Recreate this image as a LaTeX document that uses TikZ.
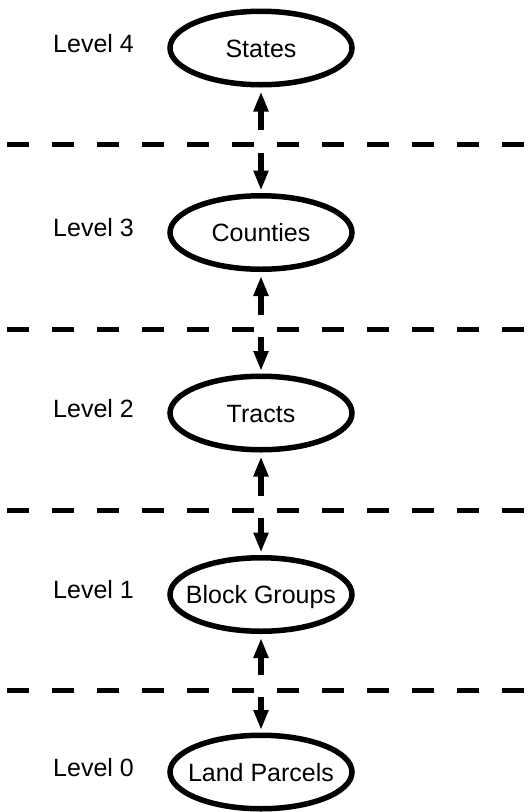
\documentclass[tikz,border=0pt]{standalone}
\usepackage{fontspec}
\setmainfont{Liberation Sans}
\usetikzlibrary{arrows.meta,shapes.geometric}
\begin{document}
\begin{tikzpicture}[x=1pt,y=-1pt,
  lvlnode/.style={ellipse, draw, line width=5.5pt, minimum width=182pt, minimum height=73.5pt,
    inner xsep=-14pt, inner ysep=0pt, text height=18pt, text depth=0pt, font=\fontsize{25}{30}\selectfont},
  lvllabel/.style={anchor=base west, inner sep=0pt, font=\fontsize{25}{30}\selectfont},
  divider/.style={line width=5pt, dash pattern=on 22pt off 23pt},
  linkarrow/.style={line width=5.5pt, -{Triangle[length=20pt,width=14pt]}}]
\useasboundingbox (0,0) rectangle (530,812);
% ellipses
\node[lvlnode] (s4) at (261,48) {States};
\node[lvlnode] (s3) at (261,232.5) {Counties};
\node[lvlnode] (s2) at (261,413) {Tracts};
\node[lvlnode] (s1) at (261,594.5) {Block Groups};
\node[lvlnode] (s0) at (261,772) {Land Parcels};
% level labels
\node[lvllabel] (l4) at (53,52) {Level 4};
\node[lvllabel] (l3) at (53,236.5) {Level 3};
\node[lvllabel] (l2) at (53,417) {Level 2};
\node[lvllabel] (l1) at (53,598.5) {Level 1};
\node[lvllabel] (l0) at (53,776) {Level 0};
% dividers
\coordinate (d4a) at (7,144.5); \coordinate (d4b) at (530,144.5);
\coordinate (d3a) at (7,329); \coordinate (d3b) at (530,329);
\coordinate (d2a) at (7,510); \coordinate (d2b) at (530,510);
\coordinate (d1a) at (7,690); \coordinate (d1b) at (530,690);
\draw[divider] (d4a) -- (d4b);
\draw[divider] (d3a) -- (d3b);
\draw[divider] (d2a) -- (d2b);
\draw[divider] (d1a) -- (d1b);
% arrow start points
\coordinate (u4) at (261,130); \coordinate (w4) at (261,153);
\coordinate (u3) at (261,315); \coordinate (w3) at (261,337);
\coordinate (u2) at (261,496); \coordinate (w2) at (261,518);
\coordinate (u1) at (261,675); \coordinate (w1) at (261,697);
% arrows
\draw[linkarrow] (u4) -- ([yshift=-4pt]s4.south);
\draw[linkarrow] (w4) -- ([yshift=2.5pt]s3.north);
\draw[linkarrow] (u3) -- ([yshift=-4pt]s3.south);
\draw[linkarrow] (w3) -- ([yshift=2.5pt]s2.north);
\draw[linkarrow] (u2) -- ([yshift=-4pt]s2.south);
\draw[linkarrow] (w2) -- ([yshift=2.5pt]s1.north);
\draw[linkarrow] (u1) -- ([yshift=-4pt]s1.south);
\draw[linkarrow] (w1) -- ([yshift=2.5pt]s0.north);
\end{tikzpicture}
\end{document}
